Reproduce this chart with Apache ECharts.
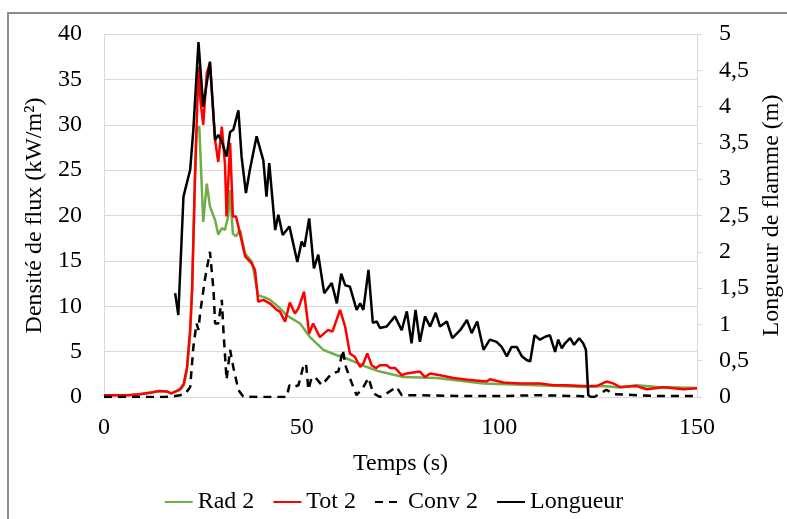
<!DOCTYPE html>
<html>
<head>
<meta charset="utf-8">
<script src="https://cdn.jsdelivr.net/npm/echarts@6/dist/echarts.min.js"></script>
<style>
  html, body { margin: 0; padding: 0; background: #fff; }
  #chart { width: 787px; height: 519px; }
</style>
</head>
<body>
<div id="chart"></div>
<script>
// temps (s) et valeurs
const tRad = [0, 3, 6, 9, 12, 14, 16, 17, 18.8, 19.5, 20.2, 21, 21.8, 22.3, 23, 23.4, 24.1, 25.1, 26, 26.8, 28.1, 28.9, 29.8, 30.6, 31.4, 31.9, 32.6, 33.4, 34.4, 35.7, 37.4, 39, 40.5, 42, 44.1, 46.2, 49.6, 52.1, 55.5, 58.9, 62.2, 66.5, 69.8, 75.7, 84.2, 96, 109.5, 122.1, 126.3, 130.5, 134.7, 140, 150]
const rad = [0.2, 0.2, 0.2, 0.3, 0.5, 0.65, 0.6, 0.4, 0.7, 0.9, 1.3, 3, 7, 12, 24, 29.4, 29.8, 19.3, 23.5, 21, 19.5, 17.9, 18.6, 18.4, 19.9, 22.8, 18, 17.7, 18.4, 15.8, 14.9, 11.2, 11, 10.7, 9.95, 9, 8.1, 6.6, 5.2, 4.6, 4.1, 3.3, 2.8, 2.2, 2.1, 1.5, 1.3, 1.1, 1.2, 1.05, 1.3, 1.1, 1.0]

const tTot = [0, 3, 6, 9, 12, 14, 16, 17, 18.8, 19.5, 20.2, 21, 21.8, 22.3, 23, 23.9, 24.4, 25.1, 26, 26.8, 28.1, 28.9, 29.8, 30.6, 31, 31.9, 32.6, 33.4, 34.4, 35.7, 37.4, 38.2, 39, 40.3, 42, 43.7, 44.5, 45.8, 47, 48.3, 49.2, 50.6, 51.9, 52.9, 54.6, 56.7, 57.8, 59.7, 61, 62.2, 63.5, 64.8, 65.6, 66.6, 67.7, 68.8, 69.8, 71.5, 72.4, 73.6, 75.3, 76.6, 79.9, 81.2, 82.5, 85, 88.4, 92, 96.8, 97.6, 101, 105.2, 110.3, 113.7, 117, 121.2, 124.6, 127.1, 128.8, 130.5, 134.7, 137.3, 141.5, 146.6, 150]
const tot = [0.2, 0.2, 0.2, 0.3, 0.5, 0.65, 0.6, 0.4, 0.75, 1.0, 1.5, 3.3, 7.5, 12, 24, 36.4, 32.7, 30, 35.7, 36.8, 28.3, 25.9, 29.8, 25.7, 19.9, 28, 19.9, 19.9, 18, 15.5, 14.7, 14, 10.5, 10.7, 10.3, 9.6, 9.4, 8.3, 10.4, 9.2, 9.8, 11.6, 7, 8.1, 6.6, 7.4, 7.2, 9.6, 7.75, 4.8, 4.4, 3.3, 3.7, 4.8, 3.5, 3.2, 3.5, 3.5, 3.2, 3.2, 2.4, 2.6, 2.8, 2.2, 2.6, 2.4, 2.1, 1.9, 1.7, 1.95, 1.6, 1.5, 1.5, 1.3, 1.3, 1.2, 1.2, 1.7, 1.5, 1.1, 1.2, 0.85, 1.07, 0.85, 0.96]

const tConv = [0, 10, 15, 18, 19.2, 20.5, 21.8, 22.6, 23.4, 23.9, 24.3, 25.5, 26.8, 27.7, 28.1, 28.9, 29.8, 30.2, 31, 31.9, 32.7, 34, 35.2, 40, 46.2, 46.9, 47.9, 49.2, 50.3, 51.1, 51.7, 52.5, 53.4, 55.1, 57.6, 59.3, 60.4, 61.2, 62.7, 63.9, 65.6, 66.9, 68.1, 69.8, 71.5, 74, 75.3, 80, 90, 100, 110, 120, 124, 127.1, 129, 135, 140, 150]
const conv = [0, 0, 0, 0.1, 0.2, 0.3, 1.1, 5.5, 8.1, 7.4, 9.2, 12.9, 16, 11.8, 8.1, 8.1, 10.7, 7.4, 1.9, 5.2, 3.3, 0.77, 0.05, 0, 0, 1.3, 1.1, 1.3, 3.2, 3.7, 0.8, 2.1, 2.2, 1.3, 2.6, 2.8, 5.2, 3.3, 1.5, 0.2, 1.1, 2.1, 0.4, 0, 0.4, 1.1, 0.2, 0.2, 0.1, 0.1, 0.2, 0.1, 0, 0.8, 0.3, 0.2, 0.1, 0.1]

const tLong = [18, 18.8, 20.1, 21.8, 22.6, 23.9, 25.1, 26.8, 28.1, 28.9, 29.8, 31, 31.9, 32.7, 34, 34.8, 35.9, 36.9, 38.6, 40.3, 41.1, 41.8, 43.3, 44.1, 45.2, 46.9, 48.9, 50, 50.7, 51.9, 53.1, 54.2, 55.7, 57.6, 58.9, 60, 61, 62.2, 63.9, 64.8, 65.6, 66.9, 68, 69, 69.8, 71.5, 73.6, 75.3, 76.6, 77.8, 78.8, 79.9, 81.2, 82.5, 83.9, 85, 86.7, 88.1, 90.1, 91.8, 93, 94.4, 96, 97.6, 99.3, 100.6, 101.9, 103.1, 104.4, 105.7, 106.9, 107.8, 108.9, 110.3, 111.6, 112.8, 114.1, 114.9, 115.8, 116.6, 117.9, 118.9, 120.2, 121.2, 121.9, 122.5, 123]
const longueur = [1.43, 1.13, 2.76, 3.13, 3.68, 4.89, 4.0, 4.62, 3.54, 3.61, 3.52, 3.31, 3.65, 3.68, 3.95, 3.31, 2.81, 3.13, 3.59, 3.26, 2.76, 3.22, 2.3, 2.51, 2.23, 2.35, 1.86, 2.14, 2.07, 2.46, 1.77, 1.96, 1.43, 1.57, 1.29, 1.7, 1.54, 1.52, 1.2, 1.29, 1.2, 1.75, 1.02, 1.04, 0.95, 0.97, 1.11, 0.92, 1.18, 0.74, 1.2, 0.76, 1.11, 0.97, 1.16, 0.97, 1.04, 0.81, 0.92, 1.06, 0.88, 1.04, 0.65, 0.79, 0.76, 0.69, 0.56, 0.69, 0.69, 0.56, 0.51, 0.49, 0.85, 0.79, 0.83, 0.85, 0.62, 0.79, 0.67, 0.74, 0.81, 0.72, 0.81, 0.74, 0.65, 0.03, 0]

function pairs(t, v) {
  return t.map((x, i) => [x, v[i]])
}

const font = 'Liberation Serif, Times New Roman, serif'
const txt = { color: '#000', fontFamily: font, fontSize: 24 }

const myChart = echarts.init(document.getElementById('chart'), null, { renderer: 'canvas' })

myChart.setOption({
  animation: false,
  textStyle: { fontFamily: font },
  graphic: [{
    type: 'rect',
    shape: { x: 8, y: 13, width: 800, height: 530 },
    style: { fill: 'none', stroke: '#8c8c8c', lineWidth: 2 }
  }],
  grid: { left: 104, right: 90, top: 34, bottom: 122, outerBoundsMode: 'none' },
  legend: {
    bottom: 0,
    left: 'center',
    itemWidth: 28,
    itemHeight: 14,
    itemGap: 18,
    itemStyle: { opacity: 0 },
    textStyle: txt,
    data: ['Rad 2', 'Tot 2', 'Conv 2', 'Longueur']
  },
  xAxis: {
    type: 'value',
    min: 0,
    max: 150,
    interval: 50,
    name: 'Temps (s)',
    nameLocation: 'middle',
    nameGap: 55,
    nameTextStyle: txt,
    axisLine: { lineStyle: { color: '#d9d9d9', width: 1 } },
    axisTick: { show: false },
    splitLine: { show: false },
    axisLabel: Object.assign({ margin: 19 }, txt)
  },
  yAxis: [{
    type: 'value',
    min: 0,
    max: 40,
    interval: 5,
    name: 'Densité de flux (kW/m²)',
    nameLocation: 'middle',
    nameGap: 45,
    nameTextStyle: txt,
    axisLine: { show: true, lineStyle: { color: '#d9d9d9' } },
    axisTick: { show: false },
    splitLine: { lineStyle: { color: '#d9d9d9', width: 1 } },
    axisLabel: Object.assign({ margin: 22 }, txt)
  }, {
    type: 'value',
    min: 0,
    max: 5,
    interval: 0.5,
    position: 'right',
    name: 'Longueur de flamme (m)',
    nameLocation: 'middle',
    nameGap: 63,
    nameRotate: 90,
    nameTextStyle: txt,
    axisLine: { show: true, lineStyle: { color: '#d9d9d9' } },
    axisTick: { show: true, length: 5, lineStyle: { color: '#d9d9d9' } },
    splitLine: { show: false },
    axisLabel: Object.assign({
      margin: 22,
      formatter: v => String(v).replace('.', ',')
    }, txt)
  }],
  series: [{
    name: 'Rad 2',
    type: 'line',
    symbol: 'none',
    lineStyle: { color: '#70ad47', width: 2.5 },
    itemStyle: { color: '#70ad47' },
    data: pairs(tRad, rad)
  }, {
    name: 'Tot 2',
    type: 'line',
    symbol: 'none',
    lineStyle: { color: '#ff0000', width: 2.5 },
    itemStyle: { color: '#ff0000' },
    data: pairs(tTot, tot)
  }, {
    name: 'Conv 2',
    type: 'line',
    symbol: 'none',
    lineStyle: { color: '#000', width: 2.5, type: [8, 6] },
    itemStyle: { color: '#000' },
    data: pairs(tConv, conv)
  }, {
    name: 'Longueur',
    type: 'line',
    yAxisIndex: 1,
    symbol: 'none',
    lineStyle: { color: '#000', width: 2.5 },
    itemStyle: { color: '#000' },
    data: pairs(tLong, longueur)
  }]
})
</script>
</body>
</html>
